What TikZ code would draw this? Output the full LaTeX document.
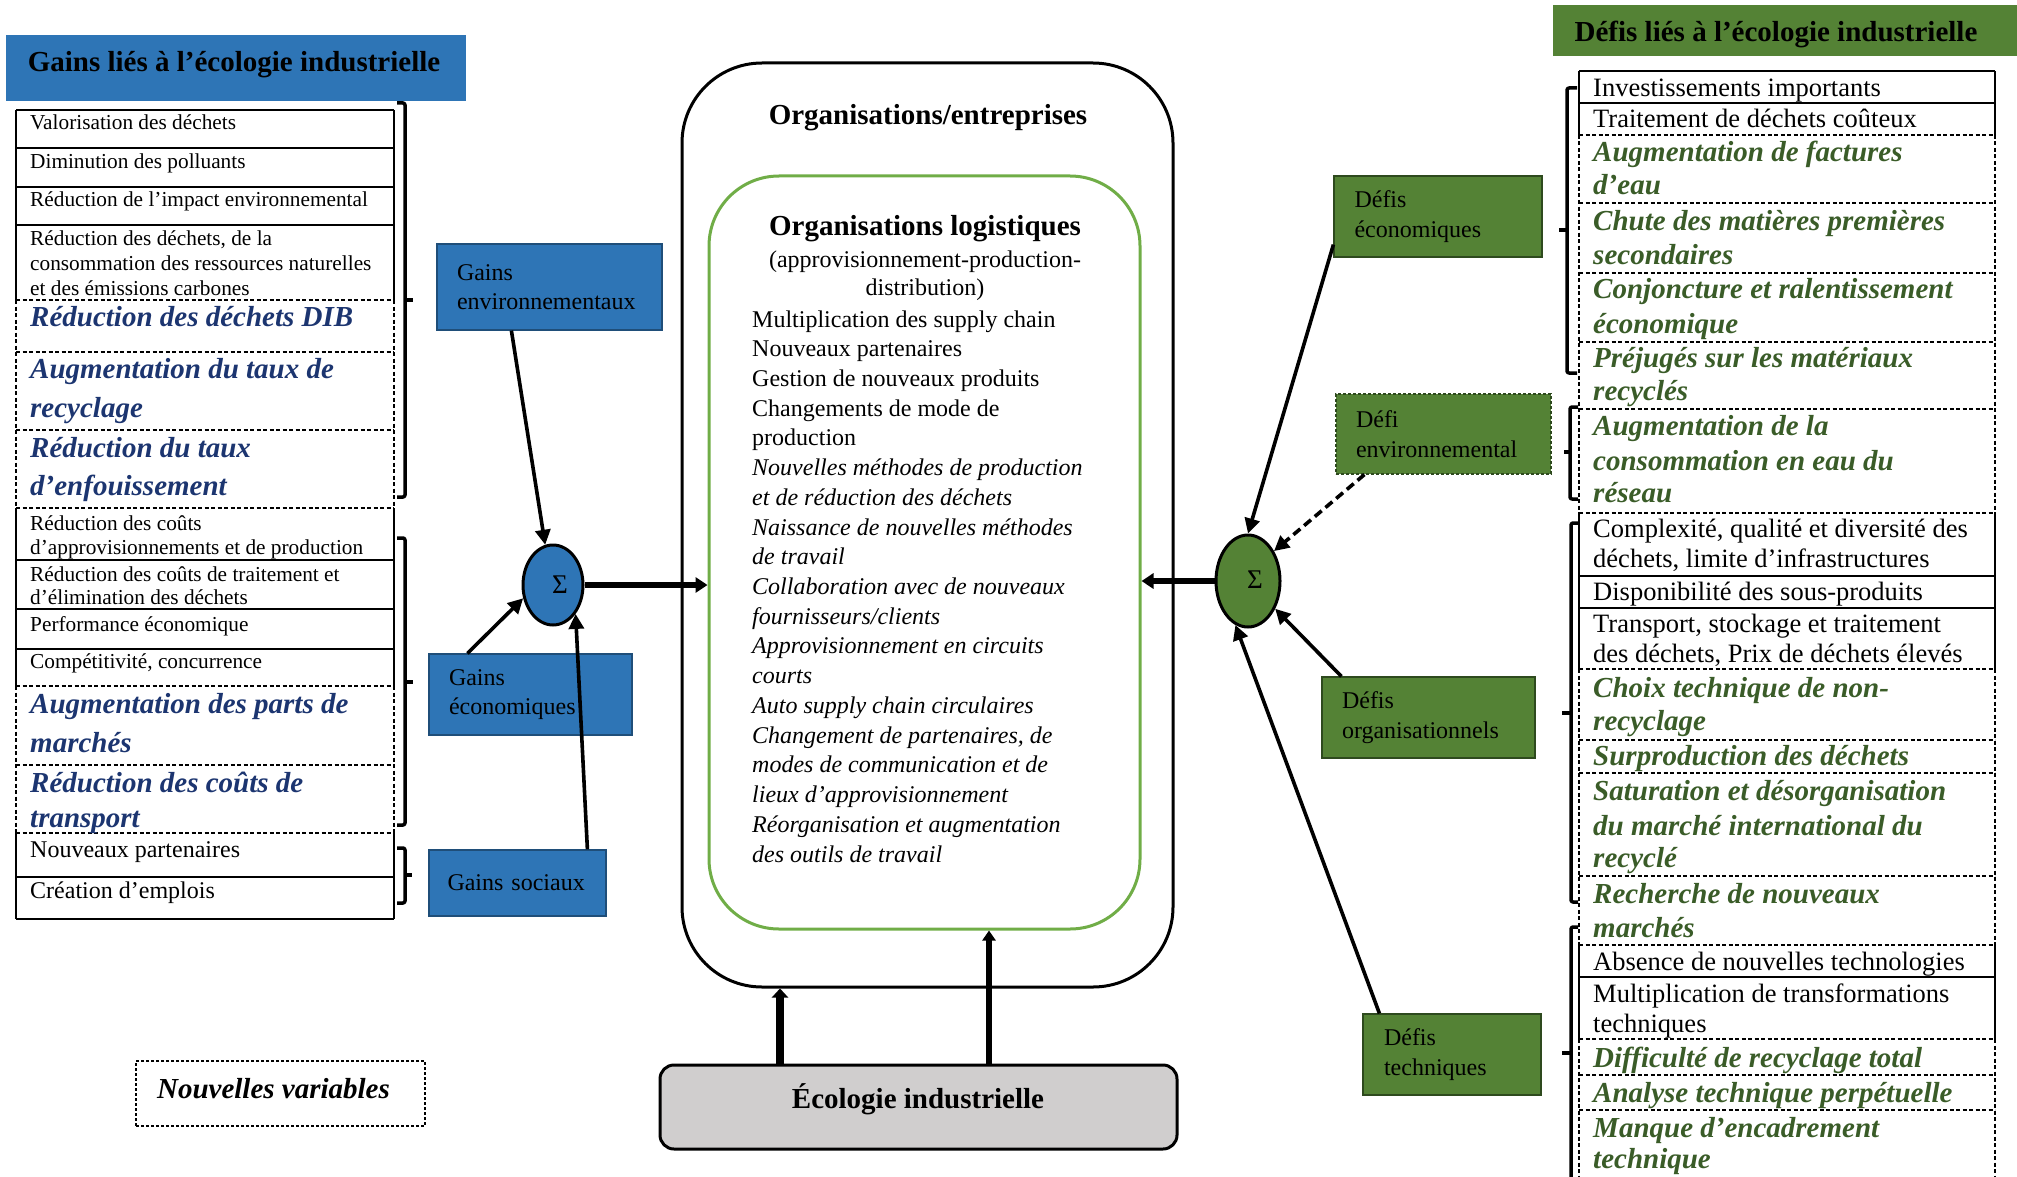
\documentclass[tikz,border=0pt]{standalone}
\usepackage{fontspec}
\setmainfont{Liberation Serif}
\usetikzlibrary{arrows.meta,shapes.geometric}
\definecolor{gblue}{HTML}{2E75B6}
\definecolor{gbluedark}{HTML}{1F4E79}
\definecolor{dgreen}{HTML}{548235}
\definecolor{dgreendark}{HTML}{2E4A1E}
\definecolor{navytxt}{HTML}{1C3570}
\definecolor{greentxt}{HTML}{3A5C28}
\definecolor{lgreen}{HTML}{70AD47}
\definecolor{ecogray}{HTML}{D0CECE}
\begin{document}
\begin{tikzpicture}[x=1pt,y=-1pt,
  every node/.style={inner sep=0pt},
  ltA/.style={anchor=base west, font=\fontsize{21.3}{25}\selectfont},
  ltB/.style={anchor=base west, font=\fontsize{24}{29}\selectfont},
  ltI/.style={anchor=base west, text=navytxt, font=\fontsize{29}{35}\selectfont\bfseries\itshape},
  rtA/.style={anchor=base west, font=\fontsize{26.5}{31}\selectfont},
  rtI/.style={anchor=base west, text=greentxt, font=\fontsize{29}{35}\selectfont\bfseries\itshape},
  ctA/.style={anchor=base west, font=\fontsize{24}{29}\selectfont},
  ctI/.style={anchor=base west, font=\fontsize{24}{29}\selectfont\itshape},
  hdr/.style={anchor=base, font=\fontsize{29}{35}\selectfont\bfseries},
  sol/.style={line width=2pt},
  dsh/.style={line width=1.7pt, dash pattern=on 4pt off 2.5pt},
  brk/.style={line width=3.5pt, line join=round, rounded corners=2pt},
  bluebox/.style={fill=gblue, draw=gbluedark, line width=1.2pt, align=left,
     font=\fontsize{24}{29}\selectfont, inner xsep=20pt},
  greenbox/.style={fill=dgreen, draw=dgreendark, line width=1.2pt, align=left,
     font=\fontsize{24}{30}\selectfont, inner xsep=20pt},
  arr/.style={line width=3.6pt, -{Triangle[length=15pt,width=15pt]}},
  bigarr/.style={line width=6pt, -{Triangle[length=12pt,width=15pt]}},
  sigma/.style={font=\fontsize{27}{27}\selectfont},
]
\useasboundingbox (0,0) rectangle (2017,1177);

% ---------------- headers ----------------
\node[fill=gblue, minimum width=460pt, minimum height=66pt] (hdrL) at (236,68) {};
\node[hdr] (hdrLt) at (234,72) {Gains liés à l’écologie industrielle};
\node[fill=dgreen, minimum width=464pt, minimum height=51pt] (hdrR) at (1785,30.5) {};
\node[hdr] (hdrRt) at (1776,42) {Défis liés à l’écologie industrielle};

% ---------------- left table ----------------
\foreach \yy in {110,148,187,225,560,609,649,877,919} \draw[sol] (16,\yy) -- (394,\yy);
\foreach \yy in {300,352,430,508,686,765,833} \draw[dsh] (16,\yy) -- (394,\yy);
\foreach \xx in {16,394} {
  \draw[sol] (\xx,110) -- (\xx,300);
  \draw[dsh] (\xx,300) -- (\xx,508);
  \draw[sol] (\xx,508) -- (\xx,686);
  \draw[dsh] (\xx,686) -- (\xx,833);
  \draw[sol] (\xx,833) -- (\xx,919);
}
\node[ltA] (l1) at (30,130) {Valorisation des déchets};
\node[ltA] (l2) at (30,168) {Diminution des polluants};
\node[ltA] (l3) at (30,207) {Réduction de l’impact environnemental};
\node[ltA] (l4a) at (30,245) {Réduction des déchets, de la};
\node[ltA] (l4b) at (30,270) {consommation des ressources naturelles};
\node[ltA] (l4c) at (30,295) {et des émissions carbones};
\node[ltI] (l5) at (30,326) {Réduction des déchets DIB};
\node[ltI] (l6a) at (30,378) {Augmentation du taux de};
\node[ltI] (l6b) at (30,417) {recyclage};
\node[ltI] (l7a) at (30,457) {Réduction du taux};
\node[ltI] (l7b) at (30,495) {d’enfouissement};
\node[ltA] (l8a) at (30,530) {Réduction des coûts};
\node[ltA] (l8b) at (30,554) {d’approvisionnements et de production};
\node[ltA] (l9a) at (30,581) {Réduction des coûts de traitement et};
\node[ltA] (l9b) at (30,604) {d’élimination des déchets};
\node[ltA] (l10) at (30,631) {Performance économique};
\node[ltA] (l11) at (30,668) {Compétitivité, concurrence};
\node[ltI] (l12a) at (30,713) {Augmentation des parts de};
\node[ltI] (l12b) at (30,752) {marchés};
\node[ltI] (l13a) at (30,792) {Réduction des coûts de};
\node[ltI] (l13b) at (30,827) {transport};
\node[ltB] (l14) at (30,857) {Nouveaux partenaires};
\node[ltB] (l15) at (30,898) {Création d’emplois};

% left brackets
\draw[brk] (397,103) -- (405,103) -- (405,497) -- (397,497);
\draw[brk] (405,300) -- (413,300);
\draw[brk] (397,538) -- (405,538) -- (405,825) -- (397,825);
\draw[brk] (405,682) -- (413,682);
\draw[brk] (397,848) -- (405,848) -- (405,903) -- (397,903);
\draw[brk] (405,875) -- (412,875);

% ---------------- left gain boxes ----------------
\node[bluebox, minimum width=225pt, minimum height=86pt, text width=185pt] (genv) at (549.5,287) {Gains\\environnementaux};
\node[bluebox, minimum width=203pt, minimum height=81pt, text width=163pt] (geco) at (530.5,694.5) {Gains\\économiques};
\node[bluebox, minimum width=177pt, minimum height=66pt, text width=140pt, inner xsep=18.5pt] (gsoc) at (517.5,883) {Gains sociaux};

\node[ellipse, draw, fill=gblue, line width=3pt, minimum width=60pt, minimum height=80pt] (sigL) at (553,585) {};
\node[sigma] (sigLt) at (560,585) {Σ};

% ---------------- center ----------------
\node[draw, rounded corners=80pt, line width=3pt, minimum width=491pt, minimum height=924pt] (org) at (927.5,525) {};
\node[draw=lgreen, rounded corners=70pt, line width=3pt, minimum width=431pt, minimum height=753pt] (logi) at (924.5,552.5) {};
\node[hdr] (orgt) at (928,125) {Organisations/entreprises};
\node[hdr] (logit) at (925,235) {Organisations logistiques};
\node[anchor=base, font=\fontsize{24}{29}\selectfont] (logis1) at (925,267) {(approvisionnement-production-};
\node[anchor=base, font=\fontsize{24}{29}\selectfont] (logis2) at (925,295) {distribution)};
\node[ctA] (c1) at (752,327) {Multiplication des supply chain};
\node[ctA] (c2) at (752,356.7) {Nouveaux partenaires};
\node[ctA] (c3) at (752,386.4) {Gestion de nouveaux produits};
\node[ctA] (c4) at (752,416.2) {Changements de mode de};
\node[ctA] (c5) at (752,445.9) {production};
\node[ctI] (c6) at (752,475.6) {Nouvelles méthodes de production};
\node[ctI] (c7) at (752,505.3) {et de réduction des déchets};
\node[ctI] (c8) at (752,535.0) {Naissance de nouvelles méthodes};
\node[ctI] (c9) at (752,564.8) {de travail};
\node[ctI] (c10) at (752,594.5) {Collaboration avec de nouveaux};
\node[ctI] (c11) at (752,624.2) {fournisseurs/clients};
\node[ctI] (c12) at (752,653.9) {Approvisionnement en circuits};
\node[ctI] (c13) at (752,683.6) {courts};
\node[ctI] (c14) at (752,713.4) {Auto supply chain circulaires};
\node[ctI] (c15) at (752,743.1) {Changement de partenaires, de};
\node[ctI] (c16) at (752,772.8) {modes de communication et de};
\node[ctI] (c17) at (752,802.5) {lieux d’approvisionnement};
\node[ctI] (c18) at (752,832.2) {Réorganisation et augmentation};
\node[ctI] (c19) at (752,862.0) {des outils de travail};

\node[draw, fill=ecogray, rounded corners=14pt, line width=3pt, minimum width=517pt, minimum height=84pt] (eco) at (918.5,1107) {};
\node[hdr] (ecot) at (918,1108) {Écologie industrielle};

\node[draw, line width=1.2pt, dash pattern=on 3pt off 2pt, minimum width=289pt, minimum height=65pt] (nv) at (280.5,1093.5) {};
\node[anchor=base, font=\fontsize{29}{35}\selectfont\bfseries\itshape] (nvt) at (273.5,1098) {Nouvelles variables};

% ---------------- right table ----------------
\foreach \yy in {71,103,576,608,977} \draw[sol] (1579,\yy) -- (1995,\yy);
\foreach \yy in {135,203,273,342,409,513,669,740,773,876,945,1039,1075,1110} \draw[dsh] (1579,\yy) -- (1995,\yy);
\foreach \xx in {1579,1995} {
  \draw[sol] (\xx,71) -- (\xx,135);
  \draw[dsh] (\xx,135) -- (\xx,513);
  \draw[sol] (\xx,513) -- (\xx,669);
  \draw[dsh] (\xx,669) -- (\xx,945);
  \draw[sol] (\xx,945) -- (\xx,1039);
  \draw[dsh] (\xx,1039) -- (\xx,1195);
}
\node[rtA] (r1) at (1593,97) {Investissements importants};
\node[rtA] (r2) at (1593,128) {Traitement de déchets coûteux};
\node[rtI] (r3a) at (1593,162) {Augmentation de factures};
\node[rtI] (r3b) at (1593,195) {d’eau};
\node[rtI] (r4a) at (1593,230) {Chute des matières premières};
\node[rtI] (r4b) at (1593,264) {secondaires};
\node[rtI] (r5a) at (1593,298) {Conjoncture et ralentissement};
\node[rtI] (r5b) at (1593,333) {économique};
\node[rtI] (r6a) at (1593,367) {Préjugés sur les matériaux};
\node[rtI] (r6b) at (1593,400) {recyclés};
\node[rtI] (r7a) at (1593,435) {Augmentation de la};
\node[rtI] (r7b) at (1593,470) {consommation en eau du};
\node[rtI] (r7c) at (1593,502) {réseau};
\node[rtA] (r8a) at (1593,537) {Complexité, qualité et diversité des};
\node[rtA] (r8b) at (1593,567) {déchets, limite d’infrastructures};
\node[rtA] (r9) at (1593,600) {Disponibilité des sous-produits};
\node[rtA] (r10a) at (1593,632) {Transport, stockage et traitement};
\node[rtA] (r10b) at (1593,662) {des déchets, Prix de déchets élevés};
\node[rtI] (r11a) at (1593,697) {Choix technique de non-};
\node[rtI] (r11b) at (1593,730) {recyclage};
\node[rtI] (r12) at (1593,765) {Surproduction des déchets};
\node[rtI] (r13a) at (1593,800) {Saturation et désorganisation};
\node[rtI] (r13b) at (1593,835) {du marché international du};
\node[rtI] (r13c) at (1593,867) {recyclé};
\node[rtI] (r14a) at (1593,903) {Recherche de nouveaux};
\node[rtI] (r14b) at (1593,937) {marchés};
\node[rtA] (r15) at (1593,970) {Absence de nouvelles technologies};
\node[rtA] (r16a) at (1593,1002) {Multiplication de transformations};
\node[rtA] (r16b) at (1593,1032) {techniques};
\node[rtI] (r17) at (1593,1067) {Difficulté de recyclage total};
\node[rtI] (r18) at (1593,1102) {Analyse technique perpétuelle};
\node[rtI] (r19a) at (1593,1137) {Manque d’encadrement};
\node[rtI] (r19b) at (1593,1168) {technique};

% right brackets
\draw[brk] (1577,88) -- (1567,88) -- (1567,373) -- (1577,373);
\draw[brk] (1567,230) -- (1559,230);
\draw[brk] (1578,407) -- (1570,407) -- (1570,499) -- (1578,499);
\draw[brk] (1570,452) -- (1564,452);
\draw[brk] (1578,523) -- (1571,523) -- (1571,902) -- (1578,902);
\draw[brk] (1571,713) -- (1562,713);
\draw[brk] (1578,927) -- (1571,927) -- (1571,1195);
\draw[brk] (1571,1053) -- (1562,1053);

% ---------------- right challenge boxes ----------------
\node[greenbox, minimum width=208pt, minimum height=81pt, text width=167pt, inner xsep=20.5pt] (deco) at (1438,216.5) {Défis\\économiques};
\node[greenbox, dash pattern=on 3pt off 2pt, minimum width=215pt, minimum height=80pt, text width=175pt] (denv) at (1443.5,434) {Défi\\environnemental};
\node[greenbox, minimum width=213pt, minimum height=81pt, text width=173pt] (dorg) at (1428.5,717.5) {Défis\\organisationnels};
\node[greenbox, minimum width=178pt, minimum height=81pt, text width=136pt, inner xsep=21pt] (dtech) at (1452,1054.5) {Défis\\techniques};

\node[ellipse, draw, fill=dgreen, line width=3pt, minimum width=64pt, minimum height=92pt] (sigR) at (1248,581) {};
\node[sigma] (sigRt) at (1255,580) {Σ};

% ---------------- connectors ----------------
\draw[arr] ([xshift=75pt]genv.south west) -- (sigL.101);
\draw[arr] ([xshift=39pt]geco.north west) -- (sigL.204);
\draw[arr] ([xshift=159pt]gsoc.north west) -- (sigL.-52);
\draw[bigarr] (sigL.east) -- (sigL.east -| logi.west);

\draw[arr] ([yshift=13pt]deco.south west) -- (sigR.north);
\draw[arr, dash pattern=on 9pt off 5pt] ([xshift=29pt]denv.south west) -- (sigR.49);
\draw[arr] ([xshift=20pt]dorg.north west) -- (sigR);
\draw[arr] ([xshift=17pt]dtech.north west) -- (sigR.254);
\draw[bigarr] (sigR.west) -- (sigR.west -| logi.east);

\coordinate (e1) at ([xshift=-138.5pt]eco.north);
\coordinate (e2) at ([xshift=70.5pt]eco.north);
\draw[line width=8.5pt, -{Triangle[length=9pt,width=16pt]}] (e1) -- (e1 |- org.south);
\draw[line width=6pt, -{Triangle[length=10pt,width=13pt]}] (e2) -- (e2 |- logi.south);
\end{tikzpicture}
\end{document}
